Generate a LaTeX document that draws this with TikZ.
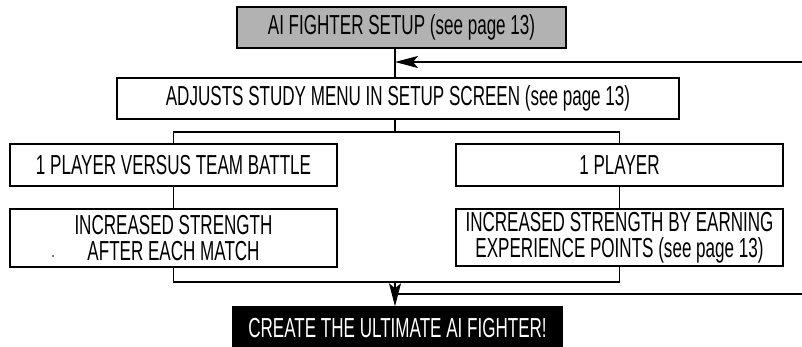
\documentclass[tikz,border=0pt]{standalone}
\usepackage{fontspec}
\setmainfont{Liberation Sans}[FakeStretch=0.62]
\usetikzlibrary{arrows.meta}
\definecolor{halftone}{RGB}{178,178,178}
\begin{document}
\begin{tikzpicture}[x=1pt,y=-1pt,
  box/.style={draw=black,line width=1.4pt,inner sep=0pt,align=center,
    font=\fontsize{27.5}{26}\selectfont},
  conn/.style={draw=black,line width=1.1pt},
  arr/.style={conn,-{Stealth[length=23pt,width=12pt,inset=5pt]}}]
\useasboundingbox (0,0) rectangle (802,347);
% nodes
\node[box,fill=halftone,minimum width=329pt,minimum height=41pt] (setup) at (401.5,27.5) {AI FIGHTER SETUP (see page 13)};
\node[box,minimum width=562pt,minimum height=41pt] (study) at (398,98.5) {ADJUSTS STUDY MENU IN SETUP SCREEN (see page 13)};
\node[box,minimum width=327pt,minimum height=42pt] (team) at (173.5,165) {1 PLAYER VERSUS TEAM BATTLE};
\node[box,minimum width=327pt,minimum height=42pt] (one) at (619.5,165) {1 PLAYER};
\node[box,minimum width=327pt,minimum height=58pt] (incA) at (173.5,238) {INCREASED STRENGTH\\AFTER EACH MATCH};
\node[box,minimum width=327pt,minimum height=57pt] (incB) at (619.5,237.5) {INCREASED STRENGTH BY EARNING\\EXPERIENCE POINTS (see page 13)};
\node[box,fill=black,text=white,minimum width=329pt,minimum height=42pt] (ult) at (397.5,328) {CREATE THE ULTIMATE AI FIGHTER!};
% coordinates
\coordinate (spine) at (395,0);
\coordinate (inTop) at (802,62);
\coordinate (inBot) at (802,294);
\coordinate (jTop) at (395,132);
\coordinate (jBot) at (395,282);
% connectors
\draw[conn] (setup.south -| spine) -- (study.north -| spine);
\draw[arr] (inTop) -- (inTop -| spine);
\draw[conn] (study.south -| spine) -- (jTop);
\draw[conn] (team.north) |- (jTop) -| (one.north);
\draw[conn] (team.south) -- (incA.north);
\draw[conn] (one.south) -- (incB.north);
\draw[conn] (incA.south) |- (jBot) -| (incB.south);
\draw[arr] (jBot) -- (ult.north -| spine);
\draw[conn] (inBot) -- (inBot -| spine);
\fill[black] (53,256) circle (0.9pt);
\end{tikzpicture}
\end{document}
